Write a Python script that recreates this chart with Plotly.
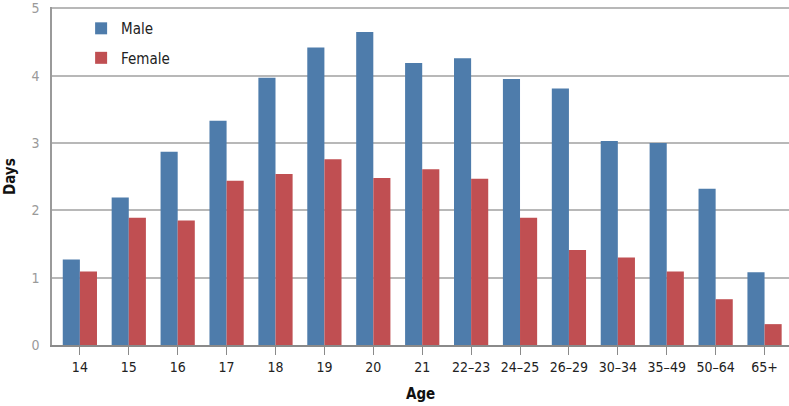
import plotly.graph_objects as go

ages = ["14", "15", "16", "17", "18", "19", "20", "21", "22–23", "24–25",
        "26–29", "30–34", "35–49", "50–64", "65+"]
male = [1.27, 2.19, 2.87, 3.33, 3.97, 4.42, 4.65, 4.19, 4.26, 3.95,
        3.81, 3.03, 3.00, 2.32, 1.08]
female = [1.09, 1.89, 1.85, 2.44, 2.54, 2.76, 2.48, 2.61, 2.47, 1.89,
          1.41, 1.30, 1.09, 0.68, 0.31]
y_ticks = [0, 1, 2, 3, 4, 5]

FONT = "DejaVu Sans Condensed, Liberation Sans Narrow, Liberation Sans, sans-serif"
BLUE = "#4e7cab"
RED = "#c04f52"

fig = go.Figure()
fig.add_trace(go.Bar(x=ages, y=male, name="Male", marker=dict(color=BLUE, line=dict(width=0)),
                     legendgroup="m"))
fig.add_trace(go.Bar(x=ages, y=female, name="Female", marker=dict(color=RED, line=dict(width=0)),
                     legendgroup="f"))

fig.update_layout(
    width=789, height=406,
    margin=dict(l=52, r=0, t=7, b=61),
    paper_bgcolor="white", plot_bgcolor="white",
    barmode="group", bargap=0.3, bargroupgap=0,
    font=dict(family=FONT, size=14, color="#222"),
    showlegend=True,
    legend=dict(x=0.0395, y=0.985, xanchor="left", yanchor="top",
                bgcolor="rgba(0,0,0,0)", font=dict(size=15, color="#222"),
                tracegroupgap=7),
    xaxis=dict(
        type="category", range=[-0.57, 14.5], automargin=False,
        showgrid=False, showline=True, linecolor="#8a8a8a", linewidth=2,
        ticks="outside", ticklen=8, tickcolor="#8a8a8a", tickwidth=1,
        tickfont=dict(size=14, color="#222"),
    ),
    yaxis=dict(
        range=[0, 5.02], tickvals=y_ticks, showgrid=True, gridcolor="#b8b8b8", gridwidth=2,
        showline=True, linecolor="#9a9a9a", linewidth=1.5, zeroline=False,
        ticks="", ticklabelstandoff=8, automargin=False,
        tickfont=dict(size=14, color="#9a9a9a"),
    ),
    annotations=[
        dict(text="<b>Days</b>", xref="paper", yref="paper", x=-0.057, y=0.5,
             xanchor="center", yanchor="middle", textangle=-90, showarrow=False,
             font=dict(size=15, color="#111")),
        dict(text="<b>Age</b>", xref="paper", yref="paper", x=0.5, y=-0.145,
             xanchor="center", yanchor="middle", showarrow=False,
             font=dict(size=15, color="#111")),
    ],
)

fig.write_html("out.html", config={"displayModeBar": False},
               post_script="document.body.style.margin='0';")
